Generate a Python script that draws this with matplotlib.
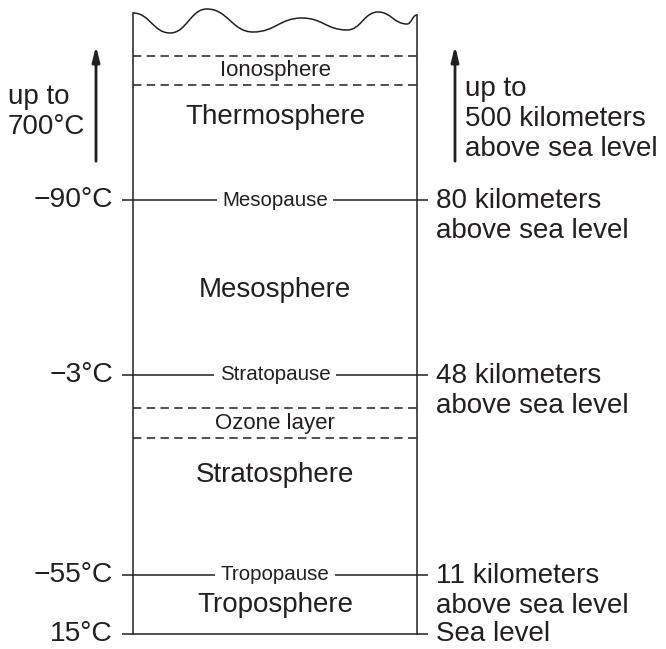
import matplotlib
matplotlib.use("Agg")
import matplotlib.pyplot as plt
from matplotlib.path import Path
from matplotlib.patches import PathPatch

plt.rcParams["font.family"] = ["Liberation Sans", "DejaVu Sans"]

# ===== Diagram content (pixel coordinates, y grows downward) =====
layer_names = ["Thermosphere", "Mesosphere", "Stratosphere", "Troposphere"]
layer_y = [117, 290, 475, 605]

boundary_names = ["Mesopause", "Stratopause", "Tropopause", ""]
boundary_y = [200, 375, 575, 634]
temperatures = ["\u221290°C", "\u22123°C", "\u221255°C", "15°C"]
altitudes = ["80 kilometers\nabove sea level", "48 kilometers\nabove sea level",
             "11 kilometers\nabove sea level", "Sea level"]

band_names = ["Ionosphere", "Ozone layer"]
band_top = [56, 408]
band_bottom = [85, 438]

top_temp = "up to\n700°C"
top_alt = "up to\n500 kilometers\nabove sea level"

# wavy top edge: crests and troughs
wave_x = [133, 170, 207, 253, 302, 347, 378, 407, 417]
wave_y = [13, 33, 9, 32, 18, 30, 12, 24, 15]

# box geometry
x0, x1 = 133, 417
ybot = 634

fig = plt.figure(figsize=(6.66, 6.49), dpi=100)
ax = fig.add_axes([0, 0, 1, 1])
ax.set_xlim(0, 666)
ax.set_ylim(649, 0)
ax.axis("off")

lw = 1.1
col = "#231f20"

# smooth wave, horizontal tangents at each extreme
verts = [(wave_x[0], wave_y[0])]
for xa, ya, xb, yb in zip(wave_x[:-1], wave_y[:-1], wave_x[1:], wave_y[1:]):
    d = (xb - xa) * 0.45
    verts += [(xa + d, ya), (xb - d, yb), (xb, yb)]
codes = [Path.MOVETO] + [Path.CURVE4] * (len(verts) - 1)
ax.add_patch(PathPatch(Path(verts, codes), fill=False, lw=lw, ec=col))

# side walls
ax.plot([x0, x0], [wave_y[0], ybot], color=col, lw=lw)
ax.plot([x1, x1], [wave_y[-1], ybot], color=col, lw=lw)

# solid boundaries with labels
for name, y, t, a in zip(boundary_names, boundary_y, temperatures, altitudes):
    ax.plot([122, 428], [y, y], color=col, lw=lw, solid_capstyle="butt")
    if name:
        ax.text((x0 + x1) / 2, y, name, ha="center", va="center", fontsize=14.8,
                color=col, bbox=dict(fc="white", ec="none", pad=4))
    ax.text(113, y, t, ha="right", va="center", fontsize=20.3, color=col)
    if "\n" in a:
        ax.text(436, y - 12, a, ha="left", va="top", fontsize=20,
                color=col, linespacing=1.21)
    else:
        ax.text(436, y, a, ha="left", va="center", fontsize=20, color=col)

# dashed bands
for name, yt, yb in zip(band_names, band_top, band_bottom):
    for y in (yt, yb):
        ax.plot([x0, x1], [y, y], color=col, lw=lw, ls=(0, (5.5, 3.5)))
    ax.text((x0 + x1) / 2, (yt + yb) / 2, name, ha="center", va="center",
            fontsize=16, color=col)

# layer names
for name, y in zip(layer_names, layer_y):
    ax.text((x0 + x1) / 2, y, name, ha="center", va="center", fontsize=20, color=col)

# arrows
arr = dict(arrowstyle="-|>,head_length=0.9,head_width=0.22", color=col, lw=2)
ax.annotate("", xy=(96, 43), xytext=(96, 164), arrowprops=arr)
ax.annotate("", xy=(455, 43), xytext=(455, 164), arrowprops=arr)

ax.text(8, 84, top_temp, ha="left", va="top", fontsize=20, color=col, linespacing=1.21)
ax.text(465, 76, top_alt, ha="left", va="top", fontsize=20, color=col, linespacing=1.21)

fig.savefig("out.png", dpi=100, facecolor="white")
